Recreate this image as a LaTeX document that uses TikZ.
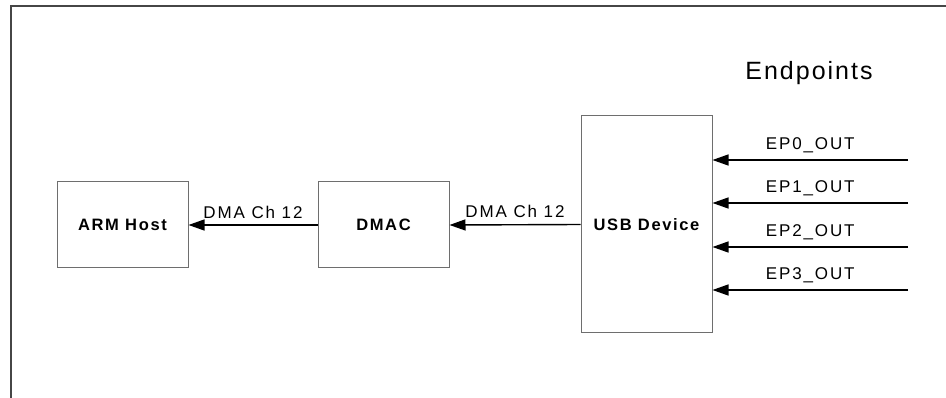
\documentclass[tikz,border=0pt]{standalone}
\usepackage{fontspec}
\setmainfont{Liberation Sans}
\usetikzlibrary{arrows.meta}
\definecolor{BoxGray}{RGB}{110,110,110}
\definecolor{FrameGray}{RGB}{70,70,70}
\tikzset{
  blk/.style={rectangle,draw=BoxGray,line width=1pt,minimum width=131pt,
              minimum height=86pt,inner sep=0pt,
              font=\fontsize{16.5}{19}\selectfont\addfontfeatures{LetterSpace=10}\bfseries},
  sig/.style={-{Triangle[length=16pt,width=11pt]},line width=1.4pt,black},
  lbl/.style={font=\fontsize{17}{19}\selectfont\addfontfeatures{LetterSpace=11},
              above=6pt,inner sep=0pt},
}
\begin{document}
\begin{tikzpicture}[x=1pt,y=-1pt]
  \useasboundingbox (0,0) rectangle (946,398);
  % open frame
  \draw[FrameGray,line width=1.4pt] (11,398) -- (11,6) -- (946,6);
  \node[blk] (arm)  at (122.5,225) {ARM Host};
  \node[blk] (dmac) at (383.5,225) {DMAC};
  \node[blk,minimum height=217pt] (usb) at (646.5,224.5) {USB Device};
  \draw[sig] (dmac.west) -- node[lbl]{DMA Ch 12} (arm.east);
  \draw[sig] (usb.west)  -- node[lbl]{DMA Ch 12} (dmac.east);
  \node[font=\fontsize{25}{29}\selectfont\addfontfeatures{LetterSpace=8}] (eptitle) at (809,73) {Endpoints};
  \foreach \i/\y in {0/160,1/203,2/247,3/290}{
    \coordinate (ep\i) at (908,\y);
    \draw[sig] (ep\i) -- node[lbl]{EP\i\_OUT} (ep\i -| usb.east);
  }
\end{tikzpicture}
\end{document}
